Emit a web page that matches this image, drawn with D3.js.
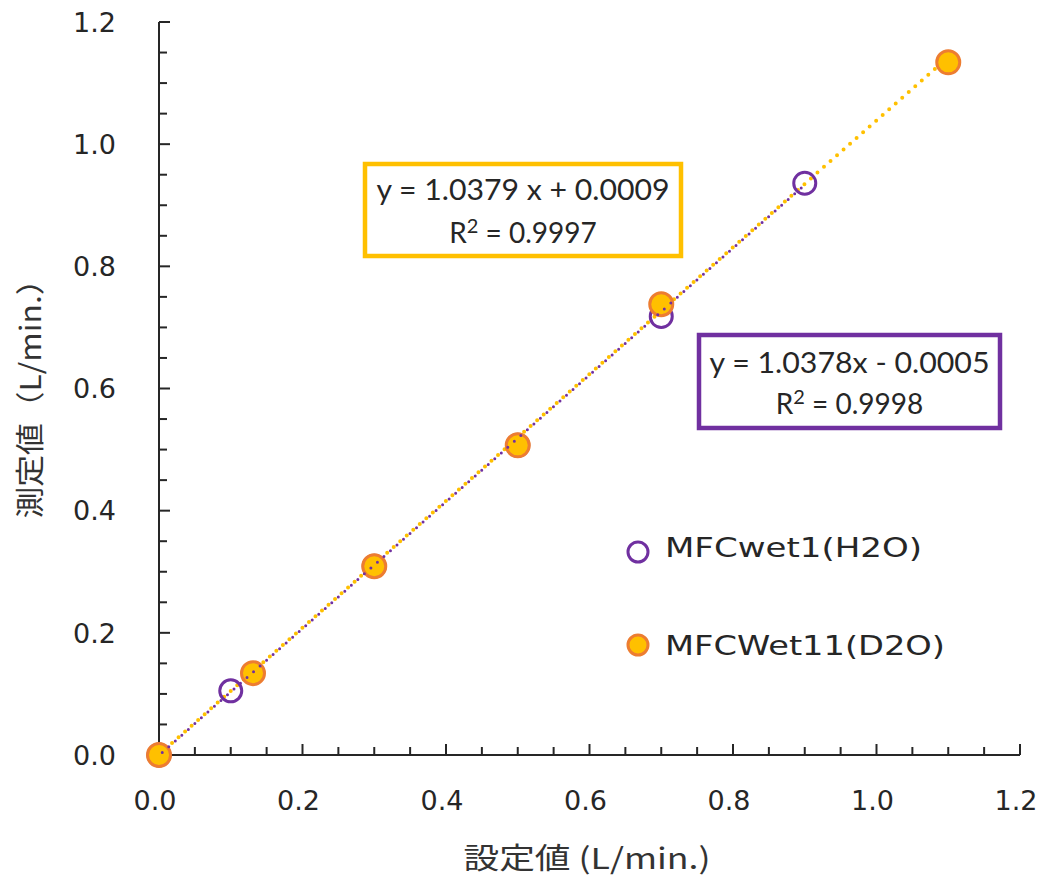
<!DOCTYPE html>
<html><head><meta charset="utf-8">
<script src="https://cdn.jsdelivr.net/npm/d3@7"></script>
<style>html,body{margin:0;padding:0;background:#fff;}</style>
</head><body>
<svg id="chart" width="1044" height="885"></svg>
<script>
// ---- data ----
const h2oX = [0, 0.1, 0.3, 0.5, 0.7, 0.9];
const h2oY = [0, 0.105, 0.309, 0.507, 0.718, 0.936];
const d2oX = [0, 0.131, 0.3, 0.5, 0.7, 1.1];
const d2oY = [0, 0.134, 0.309, 0.507, 0.738, 1.134];
const d2oFit = [1.0379, 0.0009];   // slope, intercept
const h2oFit = [1.0378, -0.0005];
const tickValues = [0, 0.2, 0.4, 0.6, 0.8, 1.0, 1.2];
const seriesNames = ["MFCwet1(H2O)", "MFCWet11(D2O)"];
const eqD2O = ["y = 1.0379 x + 0.0009", "0.9997"];
const eqH2O = ["y = 1.0378x - 0.0005", "0.9998"];
const xTitle = "設定値 (L/min.)";
const yTitle = "測定値（L/min.）";

const svg = d3.select("#chart");
const x = d3.scaleLinear().domain([0, 1.2]).range([159, 1020]);
const y = d3.scaleLinear().domain([0, 1.2]).range([755, 22]);
const axisColor = "#262626";
const PURPLE = "#7030A0", GOLD = "#FFC000", ORANGE = "#ED7D31";

// minor ticks
const minor = d3.range(0, 1.2001, 0.05);
const gx = svg.append("g");
gx.append("line").attr("x1", x(0)).attr("x2", x(1.2)).attr("y1", y(0)).attr("y2", y(0))
  .attr("stroke", axisColor).attr("stroke-width", 2);
gx.selectAll("line.t").data(minor).join("line").attr("class","t")
  .attr("x1", d => x(d)).attr("x2", d => x(d))
  .attr("y1", y(0)).attr("y2", (d,i) => y(0) - (i % 4 === 0 ? 11 : 8))
  .attr("stroke", axisColor).attr("stroke-width", 2);
gx.selectAll("text").data(tickValues).join("text")
  .attr("x", d => x(d) - 4).attr("y", 800).attr("dy", "0.36em")
  .attr("text-anchor", "middle").attr("font-family", "DejaVu Sans")
  .attr("font-size", 27).attr("fill", axisColor)
  .text(d => d.toFixed(1));

const gy = svg.append("g");
gy.append("line").attr("x1", x(0)).attr("x2", x(0)).attr("y1", y(0)).attr("y2", y(1.2))
  .attr("stroke", axisColor).attr("stroke-width", 2);
gy.selectAll("line.t").data(minor).join("line").attr("class","t")
  .attr("y1", d => y(d)).attr("y2", d => y(d))
  .attr("x1", x(0)).attr("x2", (d,i) => x(0) + (i % 4 === 0 ? 11 : 8))
  .attr("stroke", axisColor).attr("stroke-width", 2);
gy.selectAll("text").data(tickValues).join("text")
  .attr("x", 116).attr("y", d => y(d)).attr("dy", "0.36em")
  .attr("text-anchor", "end").attr("font-family", "DejaVu Sans")
  .attr("font-size", 27).attr("fill", axisColor)
  .text(d => d.toFixed(1));

// axis titles
svg.append("text").attr("x", 587).attr("y", 859).attr("dy", "0.36em")
  .attr("text-anchor", "middle").attr("font-family", "Noto Sans CJK JP")
  .attr("font-size", 29).attr("fill", "#333")
  .attr("textLength", 247).attr("lengthAdjust", "spacingAndGlyphs")
  .text(xTitle);
svg.append("text").attr("transform", "translate(31,391) rotate(-90)").attr("dy", "0.36em")
  .attr("text-anchor", "middle").attr("font-family", "Noto Sans CJK JP")
  .attr("font-size", 29).attr("fill", "#333")
  .attr("textLength", 255).attr("lengthAdjust", "spacingAndGlyphs")
  .text(yTitle);

// trendlines
const line = d3.line().x(d => x(d[0])).y(d => y(d[1]));
function fitPts(fit, xs) { const lo = d3.min(xs), hi = d3.max(xs); return [[lo, fit[0]*lo + fit[1]], [hi, fit[0]*hi + fit[1]]]; }
svg.append("path").datum(fitPts(d2oFit, d2oX)).attr("d", line)
  .attr("fill", "none").attr("stroke", GOLD).attr("stroke-width", 4)
  .attr("stroke-linecap", "round").attr("stroke-dasharray", "0 8.7");

// markers
const h2o = h2oX.map((v,i) => [v, h2oY[i]]);
const d2o = d2oX.map((v,i) => [v, d2oY[i]]);
svg.append("g").selectAll("circle").data(h2o).join("circle")
  .attr("cx", d => x(d[0])).attr("cy", d => y(d[1])).attr("r", 11)
  .attr("fill", "none").attr("stroke", PURPLE).attr("stroke-width", 3);
svg.append("g").selectAll("circle").data(d2o).join("circle")
  .attr("cx", d => x(d[0])).attr("cy", d => y(d[1])).attr("r", 11.5)
  .attr("fill", GOLD).attr("stroke", ORANGE).attr("stroke-width", 3);

svg.append("path").datum(fitPts(h2oFit, h2oX)).attr("d", line)
  .attr("fill", "none").attr("stroke", PURPLE).attr("stroke-width", 3)
  .attr("stroke-linecap", "round").attr("stroke-dasharray", "0 8.7").attr("stroke-dashoffset", 4.35);

// equation boxes
function eqBox(x0, y0, w, h, color, lines, b1, b2, l1) {
  const g = svg.append("g");
  g.append("rect").attr("x", x0).attr("y", y0).attr("width", w).attr("height", h)
    .attr("fill", "#fff").attr("stroke", color).attr("stroke-width", 4.5);
  const cx = x0 + w / 2;
  g.append("text").attr("x", cx).attr("y", b1).attr("text-anchor", "middle")
    .attr("font-family", "Lato").attr("font-size", 28).attr("fill", "#262626")
    .attr("textLength", l1).attr("lengthAdjust", "spacingAndGlyphs").text(lines[0]);
  const t = g.append("text").attr("x", cx).attr("y", b2).attr("text-anchor", "middle")
    .attr("font-family", "Lato").attr("font-size", 28).attr("fill", "#262626");
  t.append("tspan").text("R");
  t.append("tspan").attr("font-size", 20).attr("dy", -10).text("2");
  t.append("tspan").attr("dy", 10).text(" = " + lines[1]);
}
eqBox(365, 164, 316, 92, GOLD, eqD2O, 200, 243, 293);
eqBox(699, 335, 301, 93, PURPLE, eqH2O, 373, 414, 280);

// legend
const leg = svg.append("g");
leg.append("circle").attr("cx", 638).attr("cy", 552).attr("r", 10)
  .attr("fill", "none").attr("stroke", PURPLE).attr("stroke-width", 3);
leg.append("circle").attr("cx", 638).attr("cy", 645).attr("r", 10)
  .attr("fill", GOLD).attr("stroke", ORANGE).attr("stroke-width", 3);
leg.append("text").attr("x", 665).attr("y", 557).attr("font-family", "DejaVu Sans")
  .attr("font-size", 27).attr("fill", "#262626").attr("textLength", 257)
  .attr("lengthAdjust", "spacingAndGlyphs").text(seriesNames[0]);
leg.append("text").attr("x", 665).attr("y", 655).attr("font-family", "DejaVu Sans")
  .attr("font-size", 27).attr("fill", "#262626").attr("textLength", 280)
  .attr("lengthAdjust", "spacingAndGlyphs").text(seriesNames[1]);
</script>
</body></html>
